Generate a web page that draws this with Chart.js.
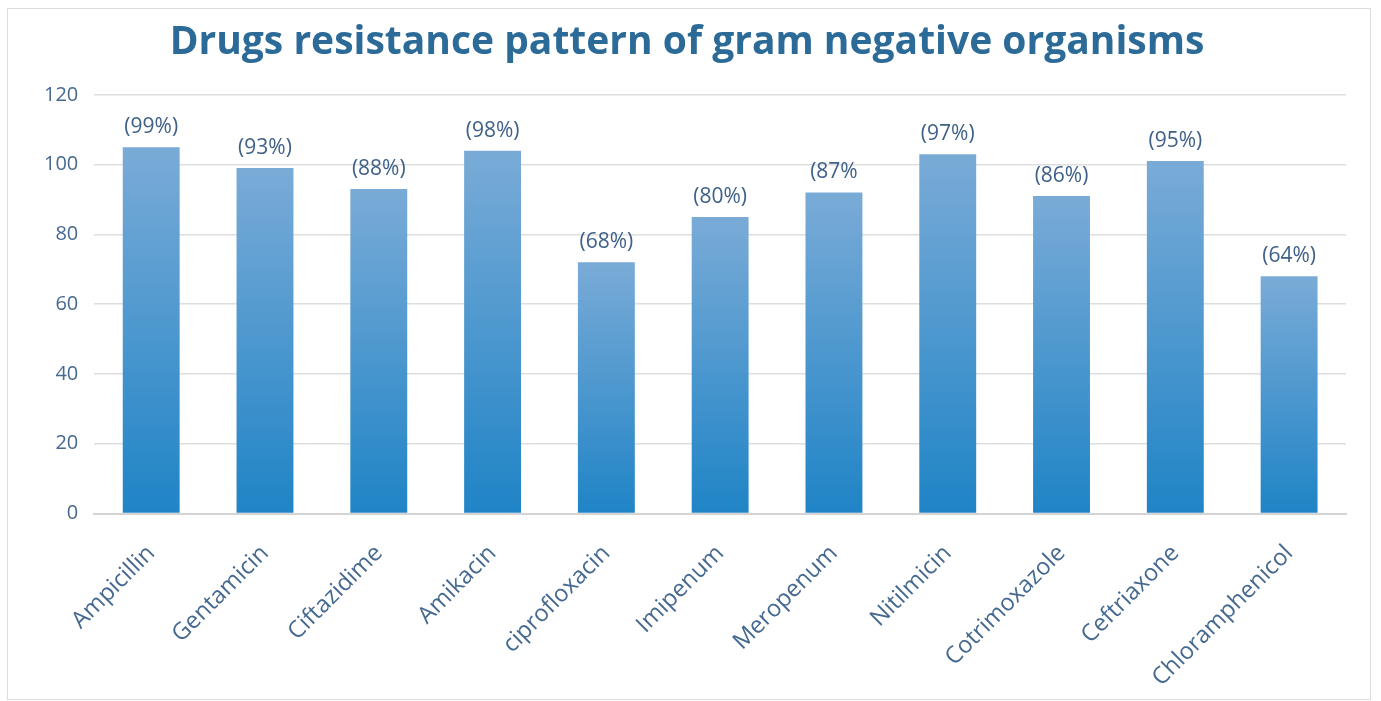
<!DOCTYPE html>
<html>
<head>
<meta charset="utf-8">
<script src="https://cdn.jsdelivr.net/npm/chart.js@4/dist/chart.umd.min.js"></script>
<style>
  body { margin: 0; background: #fff; }
  #frame { position: absolute; left: 7px; top: 8px; width: 1362px; height: 690px; border: 1px solid #dcdcdc; }
</style>
</head>
<body>
<div id="frame"><canvas id="resistance" width="1362" height="690"></canvas></div>
<script>
const drugs = ['Ampicillin', 'Gentamicin', 'Ciftazidime', 'Amikacin', 'ciprofloxacin', 'Imipenum',
    'Meropenum', 'Nitilmicin', 'Cotrimoxazole', 'Ceftriaxone', 'Chloramphenicol'];
const counts = [105, 99, 93, 104, 72, 85, 92, 103, 91, 101, 68];
const percentLabels = ['(99%)', '(93%)', '(88%)', '(98%)', '(68%)', '(80%)', '(87%', '(97%)', '(86%)', '(95%)', '(64%)'];
const yTicks = [0, 20, 40, 60, 80, 100, 120];

const textBlue = '#45698f';

// draws the "(xx%)" text above each bar
const barLabels = {
    id: 'barLabels',
    afterDatasetsDraw(chart) {
        const ctx = chart.ctx;
        const bars = chart.getDatasetMeta(0).data;
        ctx.save();
        ctx.font = '21px "Open Sans"';
        ctx.fillStyle = '#3f6189';
        ctx.textAlign = 'center';
        ctx.textBaseline = 'middle';
        bars.forEach((bar, i) => {
            ctx.fillText(percentLabels[i], bar.x, bar.y - 20);
        });
        ctx.restore();
    }
};

const resistance = document.getElementById('resistance');

const resistanceChart = new Chart(resistance, {
    type: 'bar',
    data: {
        labels: drugs,
        datasets: [{
            data: counts,
            backgroundColor: (c) => {
                const chart = c.chart;
                if (!chart.chartArea) return '#4a94cc';
                const y = chart.scales.y;
                const g = chart.ctx.createLinearGradient(0, y.getPixelForValue(c.raw), 0, y.getPixelForValue(0));
                g.addColorStop(0, '#7aabd7');
                g.addColorStop(1, '#1f84c6');
                return g;
            },
            borderWidth: 0,
            categoryPercentage: 1,
            barPercentage: 0.5
        }]
    },
    options: {
        responsive: false,
        animation: false,
        layout: {
            padding: { left: 20, right: 24, top: 0, bottom: -19 }
        },
        plugins: {
            legend: { display: false },
            tooltip: { enabled: false },
            title: {
                display: true,
                text: 'Drugs resistance pattern of gram negative organisms',
                color: '#2c6b98',
                font: { family: '"Open Sans"', size: 39, weight: 'bold' },
                padding: { top: 10, bottom: 29 }
            }
        },
        scales: {
            x: {
                grid: { display: false, drawTicks: false },
                border: { display: true, color: '#d4d4d4', width: 2 },
                ticks: {
                    color: textBlue,
                    font: { family: '"Open Sans"', size: 23.5 },
                    minRotation: 45,
                    maxRotation: 45,
                    padding: 26
                }
            },
            y: {
                min: 0,
                max: 120,
                afterBuildTicks: (axis) => { axis.ticks = yTicks.map(v => ({ value: v })); },
                grid: { color: '#dedede', lineWidth: 1.5, drawTicks: false },
                border: { display: false },
                ticks: {
                    color: textBlue,
                    font: { family: '"Open Sans"', size: 20 },
                    padding: 16
                }
            }
        }
    },
    plugins: [barLabels]
});
</script>
</body>
</html>
